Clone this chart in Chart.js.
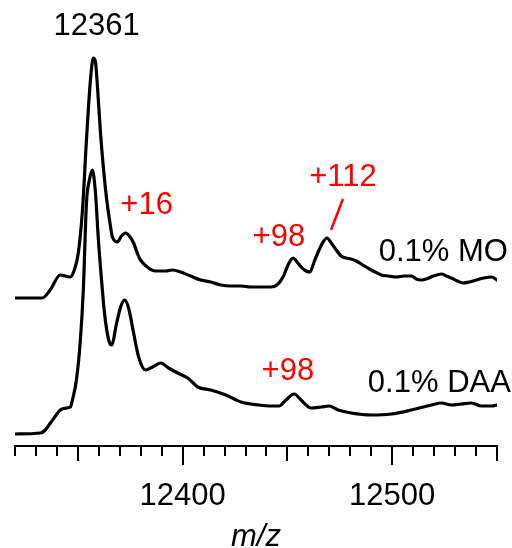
<!DOCTYPE html>
<html>
<head>
<meta charset="utf-8">
<script src="https://cdn.jsdelivr.net/npm/chart.js@4"></script>
<style>
  body { margin: 0; background: #fff; }
  #box { width: 512px; height: 548px; }
</style>
</head>
<body>
<div id="box"><canvas id="grafico-ms"></canvas></div>
<script>
var mzMO = [12320, 12333, 12336.8, 12341.6, 12346.4, 12348.3, 12350.2, 12352.2, 12354.1, 12356, 12357.4, 12358.4, 12359.3, 12360.8, 12362.2, 12363.6, 12365.1, 12366.5, 12368.9, 12370.8, 12372.7, 12374.6, 12376.6, 12378.5, 12379.9, 12383.7, 12387.1, 12391.9, 12395.2, 12399, 12403.8, 12408.6, 12413.4, 12418.2, 12423, 12427.8, 12432.5, 12437.3, 12442.1, 12445, 12447.9, 12450.3, 12452.7, 12454.6, 12456.5, 12458.9, 12460.8, 12462.7, 12465.1, 12467, 12468.9, 12470.9, 12473.3, 12475.6, 12478, 12480.4, 12482.8, 12485.2, 12487.6, 12490.9, 12494.8, 12498.1, 12501.9, 12505.8, 12509.1, 12511.5, 12513.9, 12516.3, 12519.6, 12523.5, 12525.8, 12528.2, 12531.1, 12534, 12536.9, 12540.2, 12543.6, 12547.4, 12550];
var intMO = [0, 0, 8, 23, 21, 28, 45, 88, 158, 218, 240, 236, 213, 165, 130, 101, 78, 61, 56, 62, 65, 62, 55, 44, 38, 30, 27, 27, 28, 26, 22, 18, 16, 13, 12, 12, 11, 11, 11, 13, 21, 33, 40, 36, 31, 27, 26, 36, 48, 56, 60, 55, 48, 42, 40, 39, 37, 34, 31, 27, 23, 22, 21, 22, 22, 19, 18, 19, 22, 24, 22, 20, 17, 15, 16, 18, 20, 21, 18];

var mzDAA = [12320, 12332.1, 12334.5, 12336.9, 12339.3, 12341.6, 12344.5, 12346.4, 12347.4, 12349.3, 12351.2, 12352.6, 12354.1, 12355.5, 12356.9, 12358.4, 12359.8, 12361.3, 12362.7, 12364.7, 12366.1, 12368.5, 12370.4, 12372.3, 12374.2, 12376.6, 12379, 12382.3, 12385.6, 12389.5, 12393.3, 12397.6, 12402.4, 12407.2, 12413.4, 12420.6, 12427.8, 12436.4, 12442.1, 12446, 12449.3, 12453.2, 12456.5, 12458.9, 12461.3, 12466.1, 12469.9, 12474.2, 12480.4, 12490, 12499.6, 12509.1, 12518.7, 12523.5, 12528.2, 12533, 12537.8, 12542.6, 12547.4, 12550];
var intDAA = [0, 1, 4, 11, 18, 24, 26, 27, 34, 54, 94, 144, 231, 254, 264, 241, 194, 154, 121, 94, 89, 111, 127, 134, 126, 101, 77, 64, 67, 71, 66, 61, 56, 47, 44, 39, 32, 29, 28, 28, 34, 40, 34, 29, 26, 27, 28, 24, 21, 19, 20, 24, 29, 31, 29, 30, 31, 28, 28, 29];

// spostamento verticale delle due tracce
var offsetMO = 148;
var offsetDAA = 12;

var etichetteTick = [12400, 12500];

// testi sul grafico: [testo, m/z, intensita, colore]
var annotazioni = [
    ['12361', 12358.9, 420, '#000'],
    ['+16', 12382.8, 241, '#ff0000'],
    ['+98', 12445.9, 209, '#ff0000'],
    ['+112', 12476.5, 269, '#ff0000'],
    ['0.1% MO', 12524.4, 194, '#000'],
    ['+98', 12450.2, 75, '#ff0000'],
    ['0.1% DAA', 12522.5, 63, '#000']
];

function creaPunti(mz, valori, offset) {
    var punti = [];
    for (var i = 0; i < mz.length; i++) {
        punti.push({ x: mz[i], y: valori[i] + offset });
    }
    return punti;
}

var FONT = "'Liberation Sans', Arial, sans-serif";

// testi, trattino rosso e tacche dell'asse
var pluginExtra = {
    id: 'extra',
    afterDraw: function (chart) {
        var ctx = chart.ctx;
        var sx = chart.scales.x;
        var sy = chart.scales.y;
        var fondo = chart.chartArea.bottom;
        ctx.save();
        // tacche: grandi ogni 100, medie ogni 50, piccole ogni 10
        ctx.strokeStyle = '#000';
        ctx.lineWidth = 2;
        for (var v = 12320; v <= 12550; v += 10) {
            var lung = 10;
            if (v % 100 === 0) lung = 19;
            else if (v % 50 === 0) lung = 15;
            var px = Math.round(sx.getPixelForValue(v));
            ctx.beginPath();
            ctx.moveTo(px, fondo);
            ctx.lineTo(px, fondo + lung);
            ctx.stroke();
        }
        // trattino per +112
        ctx.strokeStyle = '#ff0000';
        ctx.lineWidth = 2.5;
        ctx.beginPath();
        ctx.moveTo(sx.getPixelForValue(12476.5), sy.getPixelForValue(247));
        ctx.lineTo(sx.getPixelForValue(12470.8), sy.getPixelForValue(216));
        ctx.stroke();
        // etichette
        ctx.font = '31px ' + FONT;
        ctx.textAlign = 'center';
        ctx.textBaseline = 'middle';
        for (var i = 0; i < annotazioni.length; i++) {
            var a = annotazioni[i];
            ctx.fillStyle = a[3];
            ctx.fillText(a[0], sx.getPixelForValue(a[1]), sy.getPixelForValue(a[2]));
        }
        ctx.restore();
    }
};

var grafico = new Chart(document.getElementById('grafico-ms'), {
    type: 'line',
    data: {
        datasets: [{
            label: '0.1% MO',
            data: creaPunti(mzMO, intMO, offsetMO),
            borderColor: '#000',
            borderWidth: 3.2,
            pointRadius: 0,
            cubicInterpolationMode: 'monotone',
            borderCapStyle: 'round',
            borderJoinStyle: 'round'
        }, {
            label: '0.1% DAA',
            data: creaPunti(mzDAA, intDAA, offsetDAA),
            borderColor: '#000',
            borderWidth: 3.2,
            pointRadius: 0,
            cubicInterpolationMode: 'monotone',
            borderCapStyle: 'round',
            borderJoinStyle: 'round'
        }]
    },
    options: {
        responsive: true,
        maintainAspectRatio: false,
        animation: false,
        layout: { padding: { top: 10, left: 15, right: 15, bottom: 0 } },
        plugins: {
            legend: { display: false },
            tooltip: { enabled: false }
        },
        scales: {
            x: {
                type: 'linear',
                min: 12320,
                max: 12550,
                afterFit: function (scale) { scale.height = 102; },
                border: { display: true, color: '#000', width: 2 },
                // tacche trasparenti: servono solo a spostare le etichette in basso
                grid: { display: true, drawOnChartArea: false, drawTicks: true, tickLength: 32, color: 'rgba(0,0,0,0)' },
                ticks: {
                    stepSize: 10,
                    autoSkip: false,
                    maxRotation: 0,
                    padding: 0,
                    color: '#000',
                    font: { family: FONT, size: 31 },
                    callback: function (valore) {
                        return etichetteTick.indexOf(valore) >= 0 ? String(valore) : '';
                    }
                },
                title: {
                    display: true,
                    text: 'm/z',
                    color: '#000',
                    padding: 0,
                    font: { family: FONT, size: 31, style: 'italic', lineHeight: 0.7 }
                }
            },
            y: {
                display: false,
                min: 0,
                max: 436
            }
        }
    },
    plugins: [pluginExtra]
});
</script>
</body>
</html>
